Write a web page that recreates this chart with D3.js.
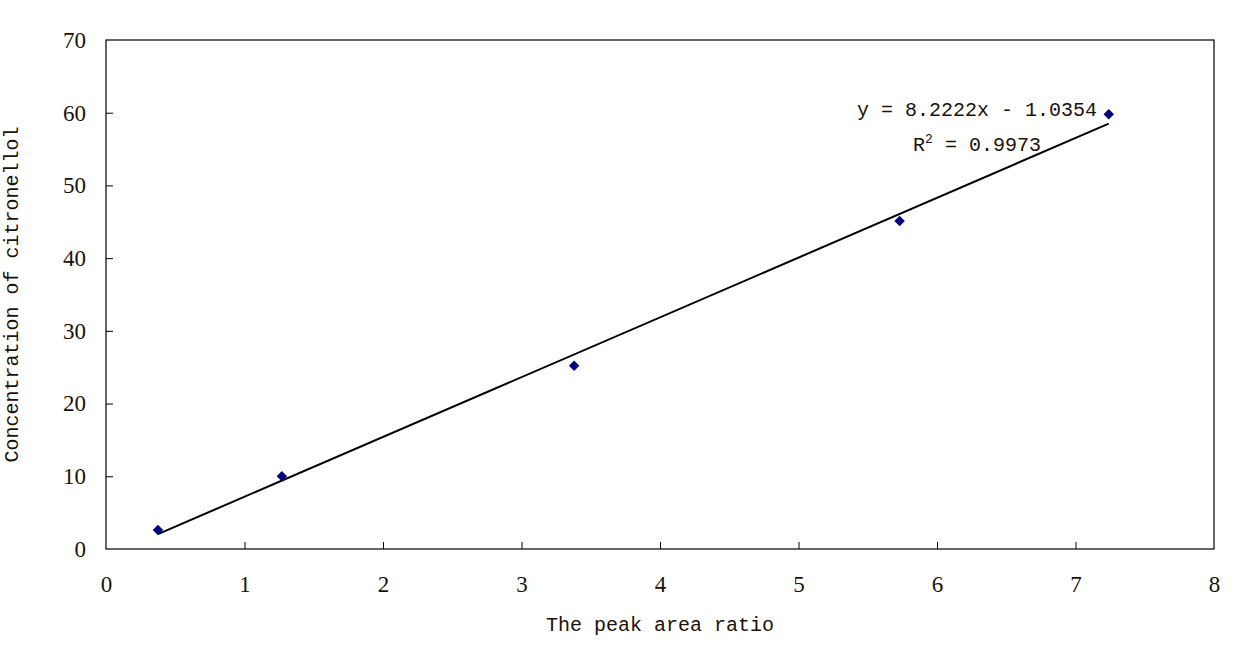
<!DOCTYPE html>
<html><head><meta charset="utf-8">
<script src="https://cdn.jsdelivr.net/npm/d3@7"></script>
<style>body{margin:0;background:#fff}</style>
</head><body>
<svg id="c" width="1245" height="664"></svg>
<script>
const xValues = [0.375, 1.27, 3.38, 5.73, 7.24];
const yValues = [2.6, 10.0, 25.2, 45.1, 59.8];
const xTicks = [0,1,2,3,4,5,6,7,8];
const yTicks = [0,10,20,30,40,50,60,70];
const slope = 8.2222, intercept = -1.0354, r2 = 0.9973;
const xTitle = "The peak area ratio";
const yTitle = "Concentration of citronellol";

const svg = d3.select("#c");
const L=106, R=1214, T=40, B=549;
const x = d3.scaleLinear().domain([0,8]).range([L,R]);
const y = d3.scaleLinear().domain([0,70]).range([B,T]);
const numFont = "'Liberation Serif', 'DejaVu Serif', serif";
const monoFont = "'Liberation Mono', 'DejaVu Sans Mono', monospace";

svg.append("rect").attr("x",L).attr("y",T).attr("width",R-L).attr("height",B-T)
  .attr("fill","none").attr("stroke","#000").attr("stroke-width",1.2);

const gx = svg.append("g").attr("transform",`translate(0,${B})`)
  .call(d3.axisBottom(x).tickValues(xTicks).tickSize(-7).tickPadding(27).tickFormat(d3.format("d")));
const gy = svg.append("g").attr("transform",`translate(${L},0)`)
  .call(d3.axisLeft(y).tickValues(yTicks).tickSize(-7).tickPadding(20).tickFormat(d3.format("d")));
[gx,gy].forEach(g=>{
  g.select(".domain").remove();
  g.selectAll(".tick line").attr("stroke","#000");
  g.selectAll(".tick text").attr("font-family",numFont).attr("font-size",23).attr("fill","#1a1208");
});
gx.selectAll(".tick line").filter(d=>d===0||d===8).remove();
gy.selectAll(".tick line").filter(d=>d===0||d===70).remove();

const x0 = d3.min(xValues), x1 = d3.max(xValues);
svg.append("line").attr("x1",x(x0)).attr("y1",y(slope*x0+intercept))
  .attr("x2",x(x1)).attr("y2",y(slope*x1+intercept))
  .attr("stroke","#000").attr("stroke-width",2);

svg.selectAll("path.pt").data(xValues).join("path").attr("class","pt")
  .attr("d",d3.symbol(d3.symbolDiamond2, 70)())
  .attr("transform",(d,i)=>`translate(${x(d)},${y(yValues[i])})`)
  .attr("fill","#000080");

svg.append("text").attr("x",977).attr("y",116).attr("text-anchor","middle")
  .attr("font-family",monoFont).attr("font-size",20).attr("fill","#1a1208")
  .text(`y = ${slope}x - ${Math.abs(intercept)}`);
const t2 = svg.append("text").attr("x",977).attr("y",151).attr("text-anchor","middle")
  .attr("font-family",monoFont).attr("font-size",20).attr("fill","#1a1208");
t2.append("tspan").text("R");
t2.append("tspan").attr("dy",-8).attr("font-size",13).text("2");
t2.append("tspan").attr("dy",8).text(` = ${r2}`);

svg.append("text").attr("x",(L+R)/2).attr("y",631).attr("text-anchor","middle")
  .attr("font-family",monoFont).attr("font-size",20).attr("fill","#1a1208").text(xTitle);
svg.append("text").attr("transform",`translate(18,${(T+B)/2}) rotate(-90)`).attr("text-anchor","middle")
  .attr("font-family",monoFont).attr("font-size",20).attr("fill","#1a1208").text(yTitle);
</script>
</body></html>
